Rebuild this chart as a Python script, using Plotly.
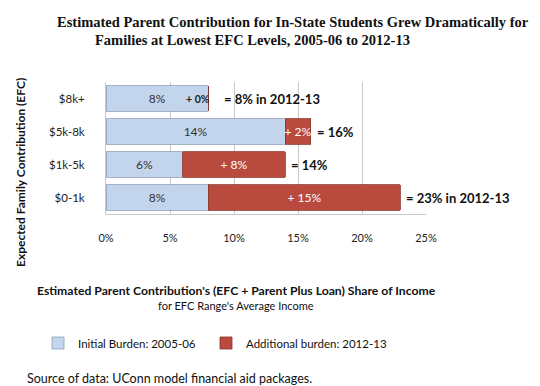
import plotly.graph_objects as go

categories = ["$0-1k", "$1k-5k", "$5k-8k", "$8k+"]
initial_2005 = [8, 6, 14, 8]
additional_2012 = [15, 8, 2, 0]
total_labels = ["= 23% in 2012-13", "= 14%", "= 16%", "= 8% in 2012-13"]
tick_vals = [0, 5, 10, 15, 20, 25]
tick_text = ["0%", "5%", "10%", "15%", "20%", "25%"]

W, H = 540, 386
L, R, T, B = 98, 122, 74, 180
pw, ph = W - L - R, H - T - B

def px(x):
    return (x - L) / pw

def py(y):
    return (H - B - y) / ph

FONT = "Lato, Open Sans, sans-serif"

fig = go.Figure()
fig.add_trace(go.Bar(
    y=categories, x=initial_2005, orientation="h",
    name="Initial Burden: 2005-06", legend="legend",
    marker=dict(color="#c3d5ec", line=dict(color="#8f9fb3", width=0.8)),
    text=[f"{v}%" for v in initial_2005], textposition="inside",
    insidetextanchor="middle", constraintext="none", textangle=0,
    textfont=dict(family=FONT, size=12, color="#333333"),
))
fig.add_trace(go.Bar(
    y=categories, x=additional_2012, orientation="h",
    name="Additional burden: 2012-13", legend="legend2",
    marker=dict(color="#b84a3e", line=dict(color="#8c3329", width=0.8)),
    text=[f"+ {v}%" if v > 0 else "" for v in additional_2012], textposition="inside",
    insidetextanchor="middle", constraintext="none", textangle=0,
    textfont=dict(family=FONT, size=12, color="white"),
))

ann = []
for c, a, b, lab in zip(categories, initial_2005, additional_2012, total_labels):
    ann.append(dict(x=a + b, y=c, xref="x", yref="y", text=f"<b>{lab}</b>",
                    showarrow=False, xanchor="left", xshift=4 if b > 0 else 14,
                    font=dict(family=FONT, size=13, color="#111111")))
    if b == 0:
        ann.append(dict(x=a, y=c, xref="x", yref="y", text="<b>+ 0%</b>",
                        showarrow=False, xanchor="right", xshift=4,
                        font=dict(family=FONT, size=10.5, color="#222222")))

page = [
    dict(x=285, y=14, text="<b>Estimated Parent Contribution for In-State Students Grew Dramatically for</b>",
         xanchor="center", font=dict(family="Liberation Serif, Times New Roman, serif", size=14.5, color="#111111")),
    dict(x=85, y=32, text="<b>Families at Lowest EFC Levels, 2005-06 to 2012-13</b>",
         xanchor="left", font=dict(family="Liberation Serif, Times New Roman, serif", size=14.5, color="#111111")),
    dict(x=12, y=165, text="<b>Expected Family Contribution (EFC)</b>", textangle=-90,
         xanchor="center", font=dict(family=FONT, size=12, color="#111111")),
    dict(x=228, y=282, text="<b>Estimated Parent Contribution's (EFC + Parent Plus Loan) Share of Income</b>",
         xanchor="center", font=dict(family=FONT, size=12.2, color="#111111")),
    dict(x=228, y=297, text="for EFC Range's Average Income",
         xanchor="center", font=dict(family=FONT, size=11, color="#111111")),
    dict(x=17, y=370, text="Source of data: UConn model financial aid packages.",
         xanchor="left", font=dict(family=FONT, size=12.5, color="#111111")),
]
for p in page:
    p.update(x=px(p["x"]), y=py(p["y"]), xref="paper", yref="paper",
             showarrow=False, yanchor="middle")
    ann.append(p)

legend_style = dict(orientation="h", yanchor="middle", xanchor="left",
                    font=dict(family=FONT, size=11.5, color="#111111"),
                    itemwidth=30, bgcolor="rgba(0,0,0,0)")

fig.update_layout(
    width=W, height=H, barmode="stack", bargap=0.22,
    margin=dict(l=L, r=R, t=T, b=B, autoexpand=False),
    paper_bgcolor="white", plot_bgcolor="white",
    showlegend=True,
    legend=dict(x=px(30), y=py(335), **legend_style),
    legend2=dict(x=px(198), y=py(335), **legend_style),
    xaxis=dict(range=[0, 25], tickvals=tick_vals, ticktext=tick_text,
               showgrid=True, gridcolor="#c8c8c8", gridwidth=1, zeroline=False,
               showline=True, linecolor="#c8c8c8",
               tickfont=dict(family=FONT, size=11, color="#222222"),
               ticks="", ticklabelstandoff=14),
    yaxis=dict(categoryorder="array", categoryarray=categories,
               showline=True, linecolor="#c8c8c8", showgrid=False,
               tickfont=dict(family=FONT, size=11.5, color="#222222"),
               ticks="", ticklabelstandoff=18),
    annotations=ann,
)

fig.write_html("out.html")
